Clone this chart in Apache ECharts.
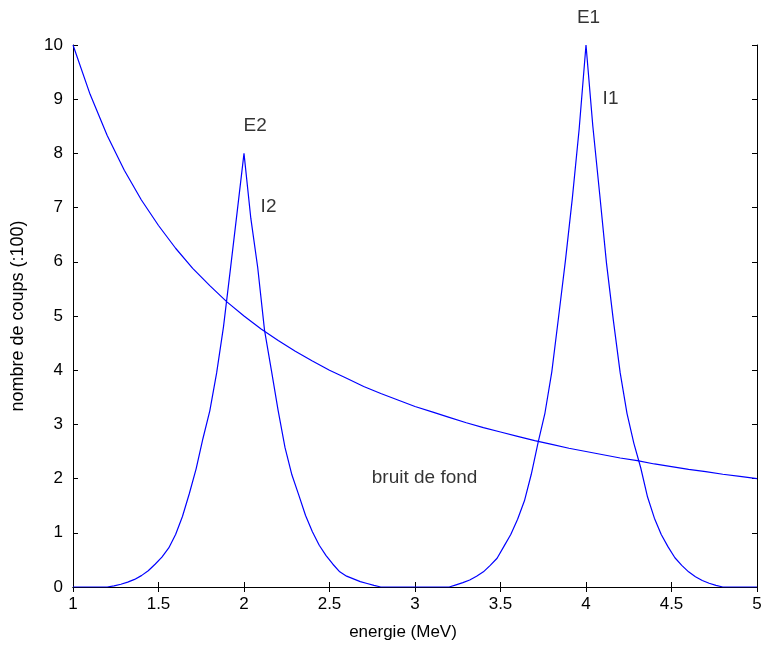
<!DOCTYPE html>
<html>
<head>
<meta charset="utf-8">
<script src="https://cdn.jsdelivr.net/npm/echarts@6/dist/echarts.min.js"></script>
<style>
  html, body { margin: 0; padding: 0; background: #fff; }
  #chart { width: 761px; height: 646px; }
</style>
</head>
<body>
<div id="chart"></div>
<script>
// Spectre gamma : deux pics (E1, E2) et bruit de fond décroissant.

// Écarts en énergie (MeV) autour du centre de chaque pic
const peakOffsets = [
  -0.80, -0.76, -0.72, -0.68, -0.64, -0.60, -0.56, -0.52, -0.48, -0.44,
  -0.40, -0.36, -0.32, -0.28, -0.24, -0.20, -0.16, -0.12, -0.08, -0.04,
   0.00,
   0.04,  0.08,  0.12,  0.16,  0.20,  0.24,  0.28,  0.32,  0.36,  0.40,
   0.44,  0.48,  0.52,  0.56,  0.60,  0.64,  0.68,  0.72,  0.76,  0.80
];

// Pic E2 centré sur 2 MeV
const peakE2Centre = 2;
const peakE2Counts = [
  0, 0.02, 0.05, 0.09, 0.14, 0.21, 0.30, 0.42, 0.55, 0.72,
  0.97, 1.30, 1.72, 2.18, 2.74, 3.25, 3.95, 4.80, 5.85, 6.92,
  8,
  6.80, 5.90, 4.74, 4.00, 3.25, 2.57, 2.07, 1.70, 1.32, 1.02,
  0.77, 0.58, 0.42, 0.28, 0.20, 0.15, 0.10, 0.065, 0.03, 0
];

// Pic E1 centré sur 4 MeV
const peakE1Centre = 4;
const peakE1Counts = [
  0, 0.04, 0.08, 0.13, 0.20, 0.28, 0.40, 0.53, 0.75, 0.97,
  1.25, 1.59, 2.08, 2.67, 3.21, 3.97, 4.99, 6.03, 7.17, 8.45,
  10,
  8.50, 7.25, 5.97, 4.92, 3.95, 3.20, 2.65, 2.20, 1.66, 1.27,
  0.97, 0.74, 0.54, 0.40, 0.28, 0.19, 0.12, 0.07, 0.03, 0
];

// Bruit de fond
const backgroundEnergy = [
  1.0, 1.1, 1.2, 1.3, 1.4, 1.5, 1.6, 1.7, 1.8, 1.9,
  2.0, 2.1, 2.2, 2.3, 2.4, 2.5, 2.6, 2.7, 2.8, 2.9,
  3.0, 3.1, 3.2, 3.3, 3.4, 3.5, 3.6, 3.7, 3.8, 3.9,
  4.0, 4.1, 4.2, 4.3, 4.4, 4.5, 4.6, 4.7, 4.8, 4.9, 5.0
];
const backgroundCounts = [
  10, 9.09, 8.33, 7.69, 7.14, 6.67, 6.25, 5.88, 5.56, 5.26,
  5.00, 4.76, 4.55, 4.35, 4.17, 4.00, 3.85, 3.70, 3.57, 3.45,
  3.33, 3.23, 3.13, 3.03, 2.94, 2.86, 2.78, 2.70, 2.63, 2.56,
  2.50, 2.44, 2.38, 2.33, 2.27, 2.22, 2.17, 2.13, 2.08, 2.04, 2.00
];

// Annotations du tracé (texte, énergie, nombre de coups)
const annotationText = ['E1', 'I1', 'E2', 'I2', 'bruit de fond'];
const annotationEnergy = [3.95, 4.1, 2.0, 2.1, 2.75];
const annotationCounts = [10.5, 9.0, 8.5, 7.0, 2.0];

const xTicks = { min: 1, max: 5, interval: 0.5 };
const yTicks = { min: 0, max: 10, interval: 1 };

// Construction de la courbe des pics (une seule ligne de 1 à 5 MeV)
const peakLine = [[xTicks.min, 0]];
peakOffsets.forEach((d, i) => peakLine.push([peakE2Centre + d, peakE2Counts[i]]));
peakOffsets.forEach((d, i) => peakLine.push([peakE1Centre + d, peakE1Counts[i]]));
peakLine.push([xTicks.max, 0]);

const backgroundLine = backgroundEnergy.map((e, i) => [e, backgroundCounts[i]]);
const annotations = annotationText.map((t, i) => ({ name: t, value: [annotationEnergy[i], annotationCounts[i]] }));

const FONT = '"Liberation Sans", Arial, Helvetica, sans-serif';
const axisCommon = {
  axisLine: { show: true, lineStyle: { color: '#000', width: 1 } },
  axisTick: { show: true, inside: true, length: 5, lineStyle: { color: '#000' } },
  splitLine: { show: false },
  minorTick: { show: false }
};

const chart = echarts.init(document.getElementById('chart'), null, { renderer: 'canvas' });
chart.setOption({
  animation: false,
  backgroundColor: '#fff',
  grid: { left: 73, right: 4, top: 45, bottom: 59, containLabel: false, outerBoundsMode: 'none' },
  xAxis: [
    Object.assign({
      type: 'value', position: 'bottom',
      min: xTicks.min, max: xTicks.max, interval: xTicks.interval,
      name: 'energie (MeV)', nameLocation: 'middle', nameGap: 37,
      nameTextStyle: { color: '#000', fontFamily: FONT, fontSize: 17, padding: [0, 24, 0, 0] },
      axisLabel: { color: '#000', fontFamily: FONT, fontSize: 17, margin: 9 }
    }, axisCommon),
    Object.assign({
      type: 'value', position: 'top',
      min: xTicks.min, max: xTicks.max, interval: xTicks.interval,
      axisLabel: { show: false }
    }, axisCommon)
  ],
  yAxis: [
    Object.assign({
      type: 'value', position: 'left',
      min: yTicks.min, max: yTicks.max, interval: yTicks.interval,
      name: 'nombre de coups (:100)', nameLocation: 'middle', nameGap: 46, nameRotate: 90,
      nameTextStyle: { color: '#000', fontFamily: FONT, fontSize: 18 },
      axisLabel: { color: '#000', fontFamily: FONT, fontSize: 17, margin: 10 }
    }, axisCommon),
    Object.assign({
      type: 'value', position: 'right',
      min: yTicks.min, max: yTicks.max, interval: yTicks.interval,
      axisLabel: { show: false }
    }, axisCommon)
  ],
  series: [
    {
      name: 'pics', type: 'line', data: peakLine,
      showSymbol: false, symbol: 'none', smooth: false,
      lineStyle: { color: '#0000ff', width: 1.2 }, z: 3
    },
    {
      name: 'bruit de fond', type: 'line', data: backgroundLine,
      showSymbol: false, symbol: 'none', smooth: false,
      lineStyle: { color: '#0000ff', width: 1.2 }, z: 3
    },
    {
      name: 'annotations', type: 'scatter', data: annotations,
      symbolSize: 1, itemStyle: { color: 'rgba(0,0,0,0)' },
      clip: false, silent: true,
      label: {
        show: true, position: [0, 0], align: 'left', verticalAlign: 'middle',
        formatter: p => p.name, color: '#000', fontFamily: FONT, fontSize: 19
      }
    }
  ]
});
</script>
</body>
</html>
